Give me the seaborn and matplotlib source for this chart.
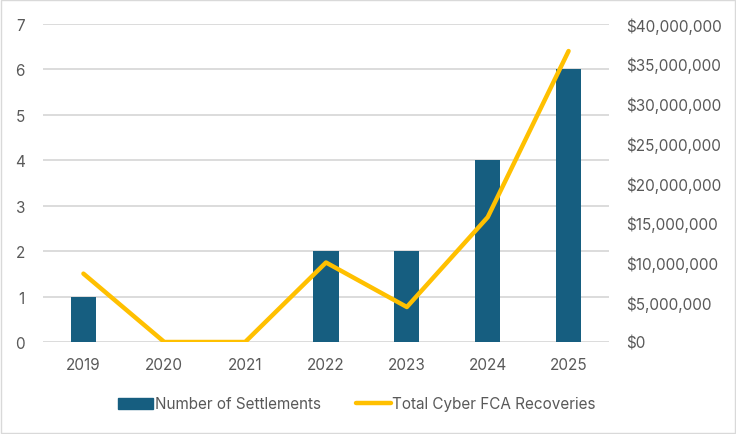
import numpy as np
import pandas as pd
import matplotlib.pyplot as plt
import seaborn as sns
from matplotlib.patches import Rectangle
from matplotlib.lines import Line2D
from matplotlib.ticker import FuncFormatter

years = ['2019', '2020', '2021', '2022', '2023', '2024', '2025']
settlements = [1, 0, 0, 2, 2, 4, 6]
recoveries = [8600000, 0, 0, 10000000, 4400000, 15700000, 36600000]

bar_color = '#165E80'
line_color = '#FFC000'
text_color = '#595959'

sns.set_style('white')
plt.rcParams['font.family'] = ['Inter', 'DejaVu Sans']

df = pd.DataFrame({'year': years, 'n': settlements, 'amt': recoveries})

fig = plt.figure(figsize=(7.36, 4.35), dpi=100)
ax = fig.add_axes([43 / 736, 1 - 343 / 435, (609 - 43) / 736, (343 - 25) / 435])

sns.barplot(data=df, x='year', y='n', color=bar_color, width=0.31, ax=ax,
            saturation=1, zorder=2, linewidth=0)
ax.set_ylim(0, 7)
ax.set_xlim(-0.5, 6.5)
ax.set_yticks(range(0, 8))
ax.yaxis.grid(True, color='#D9D9D9', linewidth=1.3, zorder=0)
ax.set_axisbelow(True)
ax.set_xlabel('')
ax.set_ylabel('')
for s in ax.spines.values():
    s.set_visible(False)
ax.tick_params(axis='both', length=0, labelsize=11, colors=text_color)
ax.tick_params(axis='y', pad=13)
ax.tick_params(axis='x', pad=11)

ax2 = ax.twinx()
x_pos = np.arange(len(years))
sns.lineplot(x=x_pos, y=df['amt'], color=line_color, linewidth=3.2, ax=ax2,
             solid_capstyle='round', solid_joinstyle='round')
ax2.set_ylim(0, 40000000)
ax2.set_yticks(range(0, 40000001, 5000000))
ax2.yaxis.set_major_formatter(FuncFormatter(lambda v, p: f'${v:,.0f}'))
ax2.set_ylabel('')
for s in ax2.spines.values():
    s.set_visible(False)
ax2.tick_params(axis='y', length=0, labelsize=11, colors=text_color, pad=12)
ax2.grid(False)
ax2.set_xlim(-0.5, 6.5)

handles = [Rectangle((0, 0), 1, 1, color=bar_color),
           Line2D([0], [0], color=line_color, linewidth=3.2, solid_capstyle='round')]
fig.legend(handles, ['Number of Settlements', 'Total Cyber FCA Recoveries'],
           loc='center', bbox_to_anchor=(0.485, 1 - 405 / 435), ncol=2, frameon=False,
           fontsize=11, labelcolor=text_color, handlelength=2.3, handletextpad=0.1,
           columnspacing=2.3)

fig.add_artist(Rectangle((0.002, 0.002), 0.996, 0.996, transform=fig.transFigure,
                         fill=False, edgecolor='#D9D9D9', linewidth=1))

fig.savefig('out.png', dpi=100)
